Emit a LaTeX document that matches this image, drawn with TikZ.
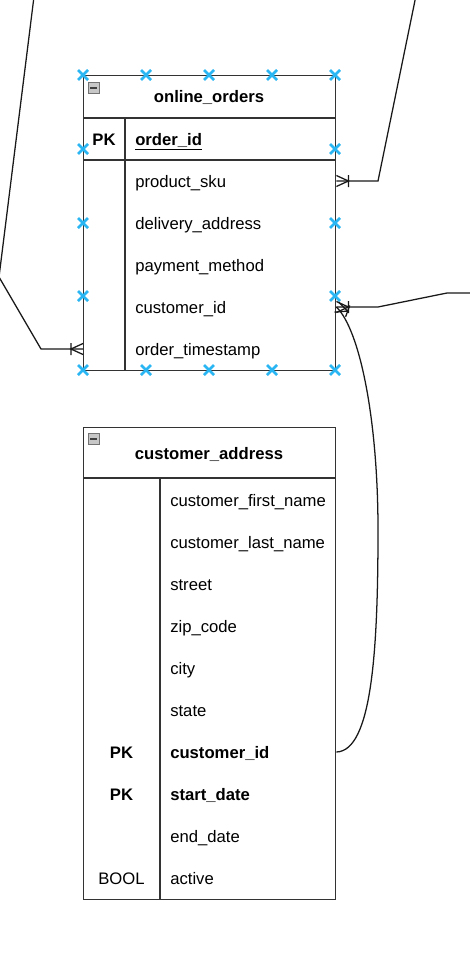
\documentclass[tikz,border=0pt]{standalone}
\usepackage{fontspec}
\setmainfont{Liberation Sans}
\usetikzlibrary{positioning}
\definecolor{hover}{HTML}{29B6F2}
\tikzset{
  frame/.style={draw=black!80,line width=1.05pt},
  link/.style={draw=black!90,line width=0.95pt},
  field/.style={anchor=west,inner sep=0pt,text height=9pt,text depth=0pt,
    font=\fontsize{12.5}{15}\selectfont},
  keytext/.style={field,anchor=center,font=\fontsize{12.5}{15}\selectfont\bfseries},
  icon/.style={draw=black!55,fill=black!22,minimum size=8.25pt,inner sep=0pt,anchor=north west},
  hoverpt/.pic={\draw[hover,line width=1.9pt] (-5,-5) -- (5,5) (-5,5) -- (5,-5);}
}
\newcommand{\crow}[2]{\draw[link,shift={(#1)},rotate=#2] (0,-5.5) -- (12,0) -- (0,5.5) (12,-6) -- (12,6);}
\begin{document}
\begin{tikzpicture}[x=0.75pt,y=-0.75pt]
\useasboundingbox (0,0) rectangle (470,974);
\clip (0,0) rectangle (470,974);
% online_orders
\node[frame,anchor=north west,minimum width=189pt,minimum height=221.25pt,inner sep=0pt] (orders) at (83,75) {};
\draw[frame] (83,118) -- (335,118);
\draw[frame] (83,160) -- (335,160);
\draw[frame,line width=1.6pt] (83,160) -- (118,160) (300,160) -- (335,160);
\draw[frame] (125,118) -- (125,370);
\node[icon] (ordersicon) at (88,82) {};
\draw[black!75,line width=1.5pt] (ordersicon.center) +(-3.5,0) -- +(3.5,0);
\node[keytext] (ordersname) at (209,97) {online\_orders};
\node[keytext] (orderspk) at (104,139) {PK};
\node[field,font=\fontsize{12.5}{15}\selectfont\bfseries] (orderid) at (135,139) {\underline{order\_id}};
\foreach \n/\t [count=\i] in {sku/product\_sku,addr/delivery\_address,pay/payment\_method,cust/customer\_id,stamp/order\_timestamp}
  \node[field] (\n) at (135,{139+42*\i}) {\t};
% customer_address
\node[frame,anchor=north west,minimum width=189pt,minimum height=354pt,inner sep=0pt] (address) at (83,427) {};
\draw[frame] (83,478) -- (335,478);
\draw[frame] (160,478) -- (160,899);
\node[icon] (addressicon) at (88,433) {};
\draw[black!75,line width=1.5pt] (addressicon.center) +(-3.5,0) -- +(3.5,0);
\node[keytext] (addressname) at (209,453) {customer\_address};
\foreach \n/\t [count=\i] in {first/customer\_first\_name,last/customer\_last\_name,street/street,zip/zip\_code,city/city,state/state}
  \node[field] (\n) at (170,{458+42*\i}) {\t};
\node[keytext] (aidpk) at (121.5,752) {PK};
\node[field,font=\fontsize{12.5}{15}\selectfont\bfseries] (aid) at (170,752) {customer\_id};
\node[keytext] (startpk) at (121.5,794) {PK};
\node[field,font=\fontsize{12.5}{15}\selectfont\bfseries] (start) at (170,794) {start\_date};
\node[field] (enddate) at (170,836) {end\_date};
\node[field,anchor=center] (activetype) at (121.5,878) {BOOL};
\node[field] (active) at (170,878) {active};
% relations
\coordinate (skufree) at (415.5,-2);
\coordinate (custfree) at (472,293);
\coordinate (stampfree) at (34.2,-5);
\draw[link] (orders.east |- sku) -- (378,181) -- (skufree);
\crow{orders.east |- sku}{0}
\draw[link] (orders.east |- cust) -- (378,307) -- (447,293) -- (custfree);
\crow{orders.east |- cust}{0}
\draw[link] (orders.east |- cust) .. controls (360,330) and (378,420) .. (378,530)
  .. controls (378,650) and (372,751) .. (address.east |- aid);
\crow{orders.east |- cust}{-20}
\draw[link] (orders.west |- stamp) -- (41,349) -- (-1,277) -- (stampfree);
\crow{orders.west |- stamp}{180}
% hover points
\foreach \x in {83,146,209,272,335} {
  \pic at (\x,75) {hoverpt};
  \pic at (\x,370) {hoverpt};
}
\foreach \y in {149,223,296} {
  \pic at (83,\y) {hoverpt};
  \pic at (335,\y) {hoverpt};
}
\end{tikzpicture}
\end{document}
